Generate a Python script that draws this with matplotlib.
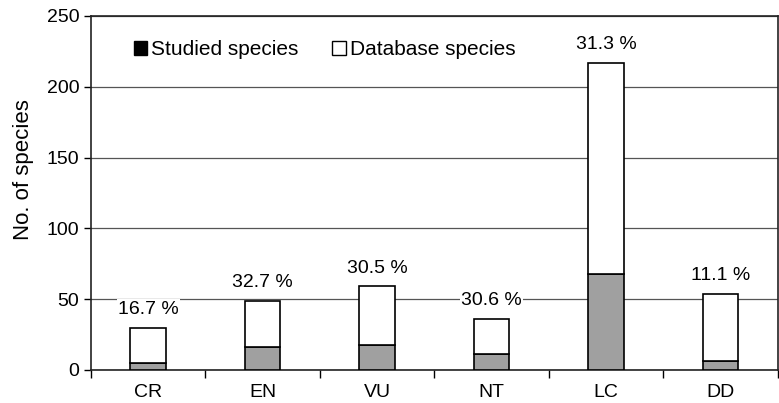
import matplotlib
matplotlib.use('Agg')
from matplotlib import pyplot as plt
from matplotlib.patches import Patch
import numpy as np

# data
categories = ['CR', 'EN', 'VU', 'NT', 'LC', 'DD']
database_total = [30, 49, 59, 36, 217, 54]
studied = [5, 16, 18, 11, 68, 6]
pct_labels = ['16.7 %', '32.7 %', '30.5 %', '30.6 %', '31.3 %', '11.1 %']

plt.rcParams['font.family'] = ['Liberation Sans', 'DejaVu Sans']

fig = plt.figure(figsize=(7.79, 4.03), dpi=100)
ax = fig.add_axes([0.1168, 0.0819, 0.8819, 0.8784])

x = np.arange(len(categories))
rest = [t - s for t, s in zip(database_total, studied)]
w = 0.31

ax.bar(x, studied, width=w, color='#a0a0a0', edgecolor='black', linewidth=1.2, zorder=3)
ax.bar(x, rest, width=w, bottom=studied, color='white', edgecolor='black', linewidth=1.2, zorder=3)

# percentage labels
for i in range(len(categories)):
    ax.annotate(pct_labels[i], (x[i], database_total[i]), xytext=(0, 7),
                textcoords='offset points', ha='center', va='bottom', fontsize=14,
                bbox=dict(facecolor='white', edgecolor='none', pad=1), zorder=4)

ax.set_xlim(-0.5, len(categories) - 0.5)
ax.set_ylim(0, 250)
ax.set_yticks([0, 50, 100, 150, 200, 250])
ax.yaxis.grid(True, color='#555555', linewidth=0.9, zorder=0)
ax.set_axisbelow(True)

ax.set_xticks(x)
ax.set_xticklabels(categories)
ax.set_xticks(np.arange(-0.5, len(categories), 1), minor=True)
ax.tick_params(axis='x', which='major', length=0, labelsize=14, pad=10)
ax.tick_params(axis='x', which='minor', length=6, width=1, direction='out')
ax.tick_params(axis='y', length=5, width=1, labelsize=14, direction='out')

for s in ax.spines.values():
    s.set_linewidth(1.2)
    s.set_color('#222222')

ax.set_ylabel('No. of species', fontsize=16)
ax.yaxis.set_label_coords(-0.083, 0.565)

handles = [Patch(facecolor='black', edgecolor='black', label='Studied species'),
           Patch(facecolor='white', edgecolor='black', label='Database species')]
ax.legend(handles=handles, loc='center left', bbox_to_anchor=(0.035, 0.905), ncol=2,
          frameon=False, fontsize=15, handlelength=0.65, handleheight=0.65,
          handletextpad=0.2, columnspacing=1.6)

plt.savefig('out.png', dpi=100)
